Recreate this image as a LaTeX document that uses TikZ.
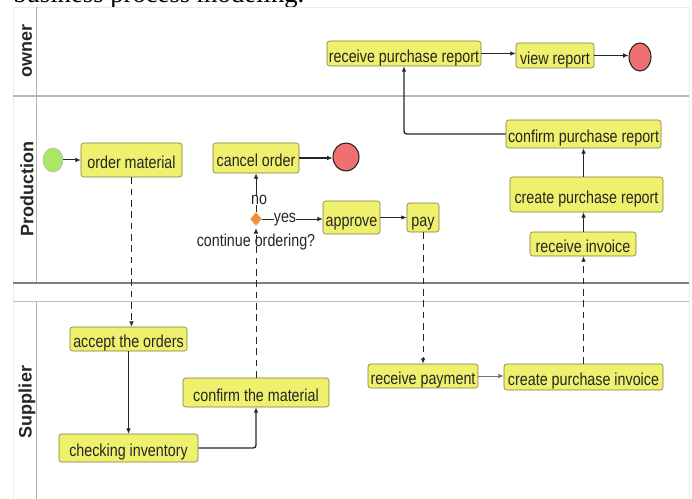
\documentclass[tikz,border=0pt]{standalone}
\usepackage{fontspec}
\setmainfont{Liberation Sans}
\newfontfamily\labfont[FakeStretch=0.825]{Liberation Sans}
\newfontfamily\headfont{Liberation Serif}
\usetikzlibrary{arrows.meta,shapes.geometric,positioning}
\definecolor{boxfill}{RGB}{238,240,110}
\definecolor{boxedge}{RGB}{120,125,60}
\definecolor{endfill}{RGB}{238,112,112}
\definecolor{startfill}{RGB}{170,232,100}
\definecolor{gatefill}{RGB}{238,146,50}
\tikzset{
  x=0.75pt,y=-0.75pt,
  task/.style={draw=boxedge,line width=0.45pt,fill=boxfill,rounded corners=2pt,inner sep=0pt,font=\labfont\fontsize{13}{14}\selectfont,text=black!85,text height=12.8pt,text depth=0pt},
  endev/.style={ellipse,draw=black!85,line width=0.8pt,fill=endfill,inner sep=0pt},
  startev/.style={ellipse,draw=black!30,line width=0.4pt,fill=startfill,inner sep=0pt},
  flow/.style={draw=black!85,line width=0.75pt,-{Latex[length=4pt,width=3.5pt]},rounded corners=2pt},
  heavyflow/.style={flow,line width=1pt},
  msg/.style={draw=black!85,line width=0.75pt,dash pattern=on 5pt off 3.5pt,-{Latex[length=4pt,width=3.5pt]}},
  lane/.style={font=\bfseries\fontsize{13.5}{15}\selectfont,rotate=90,text=black!85},
  plain/.style={font=\labfont\fontsize{13}{14}\selectfont,text=black!85,inner sep=0pt},
}
\newcommand{\tasknode}[6]{\node[task,minimum width=#4*0.75pt,minimum height=#5*0.75pt] (#1) at (#2,#3) {#6};}
\begin{document}
\begin{tikzpicture}
\useasboundingbox (0,0) rectangle (692,499);
\clip (0,0) rectangle (692,499);
% heading clipped by page top, as in the reference
\node[anchor=base west,inner sep=0pt,font=\headfont\fontsize{20}{22}\selectfont] (head) at (13,3) {business process modeling.};
% lanes
\draw[black!8,line width=0.5pt] (13,7) -- (689,7);
\draw[black!8,line width=0.5pt] (689,7) -- (689,499);
\draw[black!8,line width=0.5pt] (13,7) -- (13,499);
\draw[black!30,line width=0.6pt] (36,7) -- (36,283);
\draw[black!30,line width=0.6pt] (36,301) -- (36,499);
\draw[black!28,line width=0.9pt] (13,96) -- (689,96);
\draw[black!50,line width=0.9pt] (13,283) -- (689,283);
\draw[black!25,line width=0.7pt] (13,301) -- (689,301);
\node[lane] (lowner) at (27,51) {owner};
\node[lane] (lprod) at (27,189) {Production};
\node[lane] (lsupp) at (27,402) {Supplier};
% tasks
\tasknode{rpr}{404}{53.5}{154}{25}{receive purchase report}
\tasknode{vr}{555}{55.5}{78}{25}{view report}
\tasknode{cpr}{583.5}{134}{155}{28}{confirm purchase report}
\tasknode{crpr}{586.5}{194.5}{153}{35}{create purchase report}
\tasknode{ri}{583}{244}{106}{24}{receive invoice}
\tasknode{om}{131.5}{160}{101}{34}{order material}
\tasknode{co}{256}{158}{86}{30}{cancel order}
\tasknode{ap}{351.5}{217.5}{57}{33}{approve}
\tasknode{pay}{423}{217.5}{32}{29}{pay}
\tasknode{ato}{128.5}{339}{117}{24}{accept the orders}
\tasknode{ctm}{256}{392.5}{146}{29}{confirm the material}
\tasknode{ci}{128.5}{448}{139}{28}{checking inventory}
\tasknode{rp}{423}{376}{110}{24}{receive payment}
\tasknode{cpi}{583.5}{377}{159}{26}{create purchase invoice}
% events
\node[startev,minimum width=20*0.75pt,minimum height=24*0.75pt] (st) at (53,160) {};
\node[endev,minimum width=22*0.75pt,minimum height=28*0.75pt] (e1) at (640,57) {};
\node[endev,minimum width=26*0.75pt,minimum height=28*0.75pt] (e2) at (346,157) {};
\node[diamond,draw=black!10,line width=0.3pt,fill=gatefill,minimum width=12*0.75pt,minimum height=14*0.75pt,inner sep=0pt] (gw) at (256,219) {};
% gateway labels
\node[plain] (tno) at (259,200) {no};
\node[plain] (tyes) at (285,219.5) {yes};
\node[plain] (tcont) at (256,242) {continue ordering?};
% flows
\draw[flow] (st.east) -- (om.west|-st.east);
\draw[heavyflow] (rpr.east) -- (vr.west|-rpr.east);
\draw[flow] (vr.east) -- (e1.west|-vr.east);
\draw[heavyflow] (co.east) -- (e2.west|-co.east);
\draw[heavyflow] (cpr.west) -| (rpr.south);
\draw[flow] (cpr.south|-crpr.north) -- (cpr.south);
\draw[flow] (cpr.south|-ri.north) -- (cpr.south|-crpr.south);
\draw[black!85,line width=0.75pt] (gw.north) -- (gw.north|-tno.south);
\draw[flow] (gw.north|-tno.north) -- (co.south);
\draw[black!85,line width=0.6pt] (gw.east) -- (tyes.west|-gw.east);
\draw[flow] (tyes.east|-gw.east) -- (ap.west|-gw.east);
\draw[heavyflow] (ap.east) -- (pay.west|-ap.east);
\draw[flow,line width=0.6pt] (ato.south) -- (ci.north);
\draw[heavyflow] (ci.east) -| (ctm.south);
\draw[flow,black!55,line width=0.6pt] (rp.east) -- (cpi.west|-rp.east);
% message flows
\draw[msg] (om.south) -- (ato.north-|om.south);
\draw[msg,shorten >=1.5pt] (ctm.north) -- (gw.south);
\draw[msg] (pay.south) -- (rp.north);
\draw[msg] (cpi.north) -- (cpi.north|-ri.south);
\end{tikzpicture}
\end{document}
